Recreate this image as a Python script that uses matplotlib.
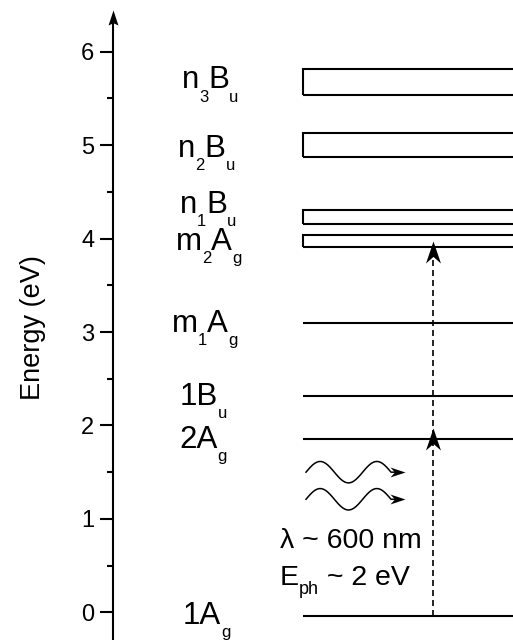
import matplotlib
matplotlib.use("Agg")
import matplotlib.pyplot as plt
from matplotlib.path import Path
from matplotlib.patches import Rectangle
from matplotlib.transforms import ScaledTranslation, Affine2D
import numpy as np

plt.rcParams['font.family'] = ['Liberation Sans', 'DejaVu Sans']

# ---- data (energies in eV) ----
line_levels = [-0.04, 1.85, 2.32, 3.10]             # 1Ag, 2Ag, 1Bu, m1Ag
band_bottoms = [3.91, 4.16, 4.87, 5.54]             # m2Ag, n1Bu, n2Bu, n3Bu
band_tops = [4.04, 4.31, 5.13, 5.81]
label_parts = [
    [('1A', 'g')],
    [('2A', 'g')],
    [('1B', 'u')],
    [('m', '1'), ('A', 'g')],
    [('m', '2'), ('A', 'g')],
    [('n', '1'), ('B', 'u')],
    [('n', '2'), ('B', 'u')],
    [('n', '3'), ('B', 'u')],
]
label_baselines = [-0.128, 1.758, 2.219, 3.003, 3.878, 4.271, 4.876, 5.608]
label_lefts = [0.175, 0.165, 0.1675, 0.147, 0.1575, 0.1675, 0.1625, 0.172]
yticks = [0, 1, 2, 3, 4, 5, 6]
ylabel = 'Energy (eV)'
excitation_start = -0.04
excitation_mid = 1.97
excitation_end = 3.97
photon_centers = [1.50, 1.21]
text_lambda = 'λ ~ 600 nm'
text_eph = [('E', 'ph'), (' ~ 2 eV', '')]

# ---- layout ----
W, H, DPI = 513, 644, 100
fig = plt.figure(figsize=(W / DPI, H / DPI), dpi=DPI)
ax = fig.add_axes([113 / W, 4 / H, 400 / W, 630 / H])
YMIN, YMAX = -0.296, 6.446
ax.set_xlim(0, 1)
ax.set_ylim(YMIN, YMAX)
for s in ['top', 'right', 'bottom', 'left']:
    ax.spines[s].set_visible(False)
ax.set_xticks([])
ax.set_yticks(yticks)
ax.set_yticklabels([str(t) for t in yticks])
ax.set_yticks(np.arange(0.5, 6.5, 1.0), minor=True)
ax.tick_params(axis='y', which='major', direction='out', length=9.4, width=1.5,
               labelsize=17, pad=4.0)
ax.tick_params(axis='y', which='minor', direction='out', length=4.5, width=1.5)

def stealth(notch=0.7, half=0.34):
    verts = [(0, 0), (half, -1.0), (0, -notch), (-half, -1.0), (0, 0)]
    codes = [Path.MOVETO, Path.LINETO, Path.LINETO, Path.LINETO, Path.CLOSEPOLY]
    return Path(verts, codes)

def rot(path, ang):
    return path.transformed(Affine2D().rotate_deg(ang))

# vertical axis line with arrow
ax.plot([0, 0], [YMIN, YMAX - 0.1], color='black', lw=1.5, clip_on=False,
        solid_capstyle='butt')
ax.plot([0], [YMAX], marker=stealth(0.85, 0.33), ms=21.6, color='black',
        clip_on=False, markeredgewidth=0)

X0 = 0.475
for e in line_levels:
    ax.plot([X0, 1.0], [e, e], color='black', lw=1.5, solid_capstyle='butt')
for b, t in zip(band_bottoms, band_tops):
    ax.add_patch(Rectangle((X0, b), 1.0, t - b, fill=False, edgecolor='black',
                           lw=1.5, clip_on=True))

# labels with subscripts
renderer = fig.canvas.get_renderer()

def sublabel(x, y, parts, size, subsize, drop):
    dx = 0.0
    for main, sub in parts:
        tr = ax.transData + ScaledTranslation(dx / 72, 0, fig.dpi_scale_trans)
        t = ax.text(x, y, main, fontsize=size, transform=tr, ha='left', va='baseline')
        dx += t.get_window_extent(renderer).width * 72 / DPI
        if sub:
            tr = ax.transData + ScaledTranslation(dx / 72, -drop / 72, fig.dpi_scale_trans)
            s = ax.text(x, y, sub, fontsize=subsize, transform=tr, ha='left', va='baseline')
            dx += s.get_window_extent(renderer).width * 72 / DPI

for parts, yb, xl in zip(label_parts, label_baselines, label_lefts):
    sublabel(xl, yb, parts, 22.5, 12, 9.5)

# dashed excitation arrow
XA = 0.80
ax.plot([XA, XA], [excitation_start, excitation_end - 0.1], color='black', lw=1.2,
        linestyle=(0, (3.6, 2.4)))
ax.plot([XA], [excitation_mid], marker=stealth(0.7, 0.34), ms=31.7, color='black',
        markeredgewidth=0)
ax.plot([XA], [excitation_end], marker=stealth(0.7, 0.34), ms=31.7, color='black',
        markeredgewidth=0)

# photon wavy arrows
xw0, xw1, xtip = 0.4825, 0.695, 0.73
amp = 0.115
for yc in photon_centers:
    xs = np.linspace(xw0, xw1, 40)
    ph = (xs - xw0) / (xw1 - xw0) * 3 * np.pi
    ys = yc + amp * np.sin(ph)
    ax.plot(np.r_[xs, xtip - 0.02], np.r_[ys, yc], color='black', lw=1.1)
    ax.plot([xtip], [yc], marker=rot(stealth(0.7, 0.33), -90), ms=21.6, color='black',
            markeredgewidth=0)

# photon text
sublabel(0.4175, 0.69, [(text_lambda, '')], 20.5, 13, 6.5)
sublabel(0.4175, 0.293, text_eph, 20.5, 13, 6.5)

fig.text(33 / W, 1 - 328 / H, ylabel, rotation=90, ha='center', va='center', fontsize=19.5)

fig.savefig('out.png', dpi=DPI)
